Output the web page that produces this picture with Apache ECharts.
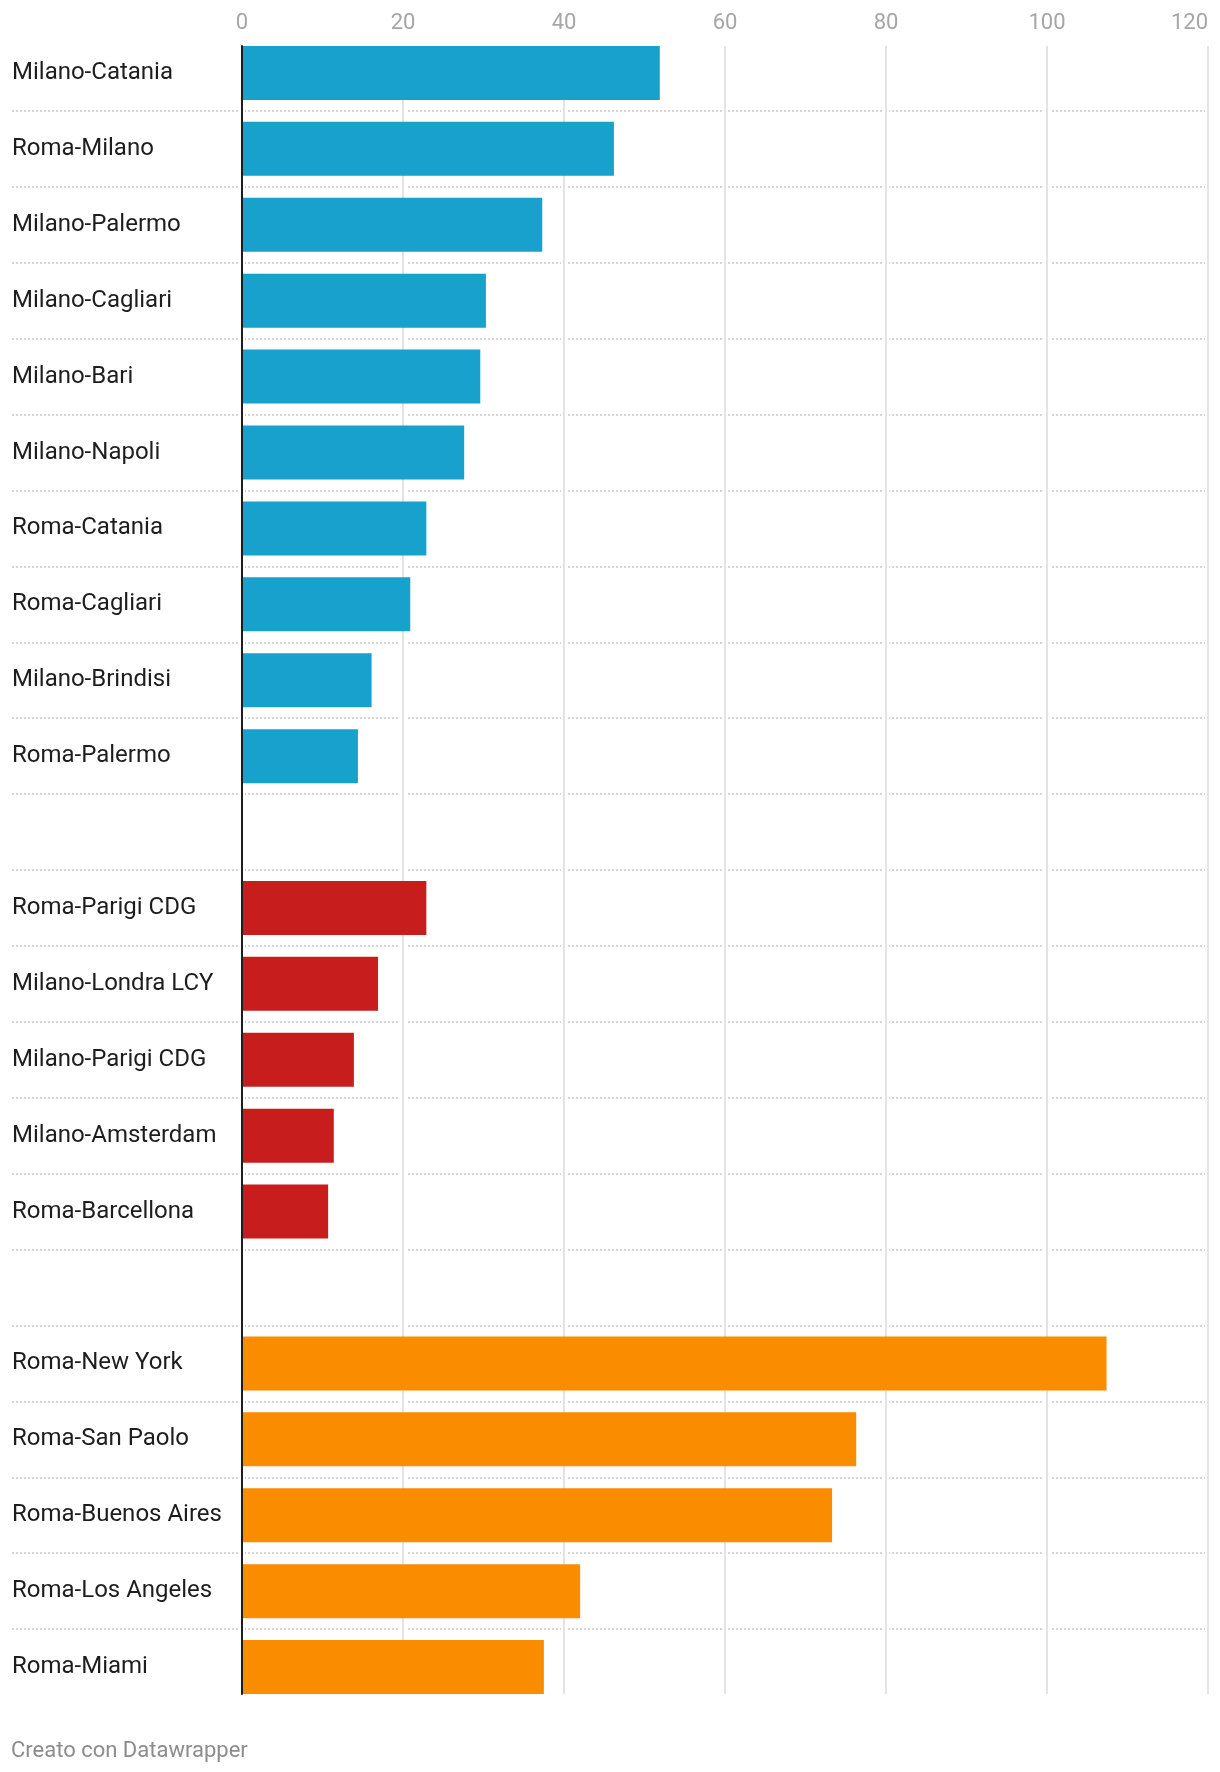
<!DOCTYPE html>
<html>
<head>
<meta charset="utf-8">
<script src="https://cdn.jsdelivr.net/npm/echarts@6/dist/echarts.min.js"></script>
<style>
  html, body { margin: 0; padding: 0; background: #ffffff; overflow: hidden; }
  #chart { width: 1220px; height: 1772px; }
</style>
</head>
<body>
<div id="chart"></div>
<script>
// ---- Data ----
const domesticRoutes = ['Milano-Catania', 'Roma-Milano', 'Milano-Palermo', 'Milano-Cagliari', 'Milano-Bari',
  'Milano-Napoli', 'Roma-Catania', 'Roma-Cagliari', 'Milano-Brindisi', 'Roma-Palermo'];
const domesticValues = [51.9, 46.2, 37.3, 30.3, 29.6, 27.6, 22.9, 20.9, 16.1, 14.4];

const europeRoutes = ['Roma-Parigi CDG', 'Milano-Londra LCY', 'Milano-Parigi CDG', 'Milano-Amsterdam', 'Roma-Barcellona'];
const europeValues = [22.9, 16.9, 13.9, 11.4, 10.7];

const intercontinentalRoutes = ['Roma-New York', 'Roma-San Paolo', 'Roma-Buenos Aires', 'Roma-Los Angeles', 'Roma-Miami'];
const intercontinentalValues = [107.4, 76.3, 73.3, 42.0, 37.5];

const xTicks = [0, 20, 40, 60, 80, 100, 120];
const footerText = 'Creato con Datawrapper';

// ---- Build ----
const groups = [
  { names: domesticRoutes, values: domesticValues, color: '#18a1cd' },
  { names: europeRoutes, values: europeValues, color: '#c71e1d' },
  { names: intercontinentalRoutes, values: intercontinentalValues, color: '#fa8c00' }
];
const categories = [];
groups.forEach((g, gi) => {
  if (gi > 0) categories.push(' '.repeat(gi)); // blank spacer row
  g.names.forEach(n => categories.push(n));
});
const seriesList = groups.map((g) => {
  const data = categories.map(c => {
    const idx = g.names.indexOf(c);
    return idx >= 0 ? g.values[idx] : null;
  });
  return {
    type: 'bar', xAxisIndex: 0, yAxisIndex: 0, data: data,
    barWidth: 54, barGap: '-100%', z: 5,
    itemStyle: { color: g.color },
    silent: true
  };
});

const FONT = 'Roboto';
const bandTop = 35, bandH = 1670;
const gridTop = 46, gridH = 1648;

const chart = echarts.init(document.getElementById('chart'), null, { renderer: 'canvas', width: 1220, height: 1772 });
chart.setOption({
  backgroundColor: '#ffffff',
  animation: false,
  textStyle: { fontFamily: FONT },
  grid: [
    { left: 242, right: 12, top: bandTop, height: bandH, containLabel: false, outerBoundsMode: 'none' },
    { left: 12, right: 12, top: bandTop, height: bandH, containLabel: false, outerBoundsMode: 'none' },
    { left: 242, right: 12, top: gridTop, height: gridH, containLabel: false, outerBoundsMode: 'none' },
    { left: 242, right: 12, top: gridTop, height: gridH, containLabel: false, outerBoundsMode: 'none' }
  ],
  xAxis: [
    { gridIndex: 0, type: 'value', min: 0, max: 120, interval: 20, show: false },
    { gridIndex: 1, type: 'value', min: 0, max: 1, show: false },
    { gridIndex: 2, type: 'value', min: 0, max: 120, interval: 20, z: 1,
      axisLine: { show: false }, axisTick: { show: false }, axisLabel: { show: false },
      splitLine: { show: true, lineStyle: { color: '#ffffff', width: 6 } } },
    { gridIndex: 3, type: 'value', min: 0, max: 120, interval: 20, position: 'top', z: 1,
      axisLine: { show: false }, axisTick: { show: false },
      axisLabel: { show: true, color: '#a6a6a6', fontSize: 22, fontFamily: FONT, margin: 12,
        alignMaxLabel: 'right',
        formatter: v => xTicks.indexOf(v) >= 0 ? String(v) : '' },
      splitLine: { show: true, lineStyle: { color: '#e3e3e3', width: 2 } } }
  ],
  yAxis: [
    { gridIndex: 0, type: 'category', data: categories, inverse: true,
      axisLine: { show: false }, axisTick: { show: false }, splitLine: { show: false },
      axisLabel: { show: true, align: 'left', margin: 230, color: '#1d1d1d', fontSize: 24, fontFamily: FONT,
        padding: [4, 0, 0, 0] } },
    { gridIndex: 1, type: 'category', data: categories, inverse: true, z: 0,
      axisLine: { show: false }, axisTick: { show: false }, axisLabel: { show: false },
      splitLine: { show: true, interval: 0, showMinLine: false, showMaxLine: false,
        lineStyle: { color: '#d6d6d6', width: 2, type: [2, 2] } } },
    { gridIndex: 2, type: 'value', show: false },
    { gridIndex: 3, type: 'value', z: 6,
      axisLine: { show: true, onZero: false, lineStyle: { color: '#1d1d1d', width: 2 } },
      axisTick: { show: false }, axisLabel: { show: false }, splitLine: { show: false } }
  ],
  graphic: [
    { type: 'text', left: 11, top: 1740,
      style: { text: footerText, fill: '#8c8c8c', font: '22px Roboto' } }
  ],
  series: seriesList
});
</script>
</body>
</html>
